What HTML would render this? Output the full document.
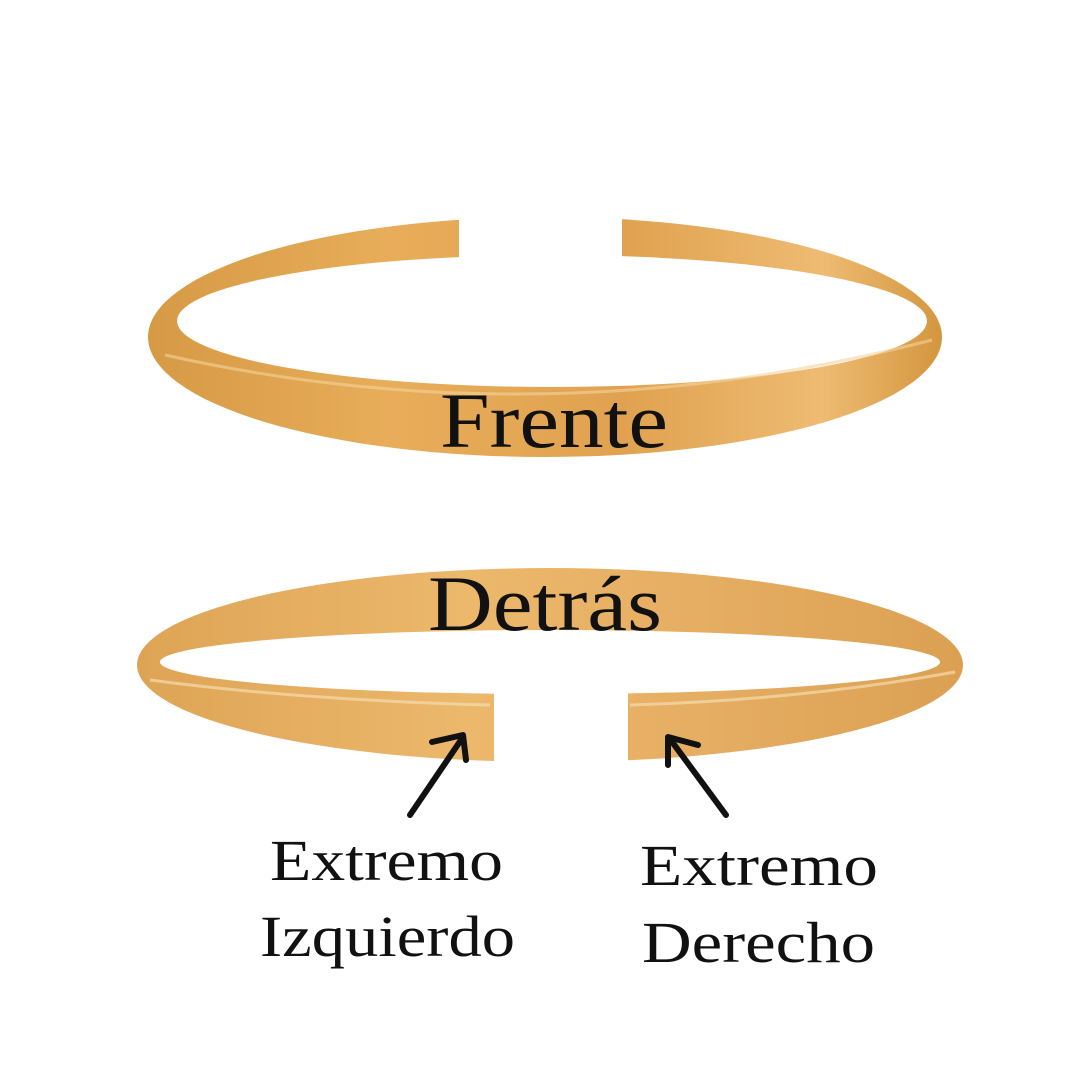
<!DOCTYPE html>
<html><head><meta charset="utf-8"><style>
html,body{margin:0;padding:0;background:#fff;width:1080px;height:1080px;overflow:hidden}
svg{display:block}
text{font-family:"Liberation Serif","DejaVu Serif",serif;fill:#111}
</style></head><body>
<svg width="1080" height="1080" viewBox="0 0 1080 1080">
<defs>
<linearGradient id="g" x1="0" y1="0" x2="1" y2="0">
<stop offset="0" stop-color="#d69a45"/><stop offset="0.3" stop-color="#e8ad5a"/>
<stop offset="0.6" stop-color="#e0a250"/><stop offset="0.85" stop-color="#eebb72"/><stop offset="1" stop-color="#d4963f"/>
</linearGradient>
<linearGradient id="g2" x1="0" y1="0" x2="1" y2="0">
<stop offset="0" stop-color="#dea455"/><stop offset="0.4" stop-color="#ecb86c"/>
<stop offset="0.7" stop-color="#e5ad62"/><stop offset="1" stop-color="#dba052"/>
</linearGradient>
</defs>
<!-- top bracelet -->
<ellipse cx="545" cy="337" rx="397" ry="120" fill="url(#g)"/>
<ellipse cx="552" cy="321" rx="375" ry="66" fill="#fff"/>
<path d="M165 355 Q545 440 932 340" stroke="#f3d49c" stroke-width="3" fill="none" opacity="0.6"/>
<rect x="459" y="195" width="163" height="80" fill="#fff"/>
<!-- bottom bracelet -->
<ellipse cx="550" cy="665" rx="413" ry="97" fill="url(#g2)"/>
<ellipse cx="550" cy="662" rx="390" ry="32" fill="#fff"/>
<path d="M150 680 Q300 700 490 705" stroke="#f5dcae" stroke-width="3" fill="none" opacity="0.7"/>
<path d="M630 705 Q800 700 955 672" stroke="#f5dcae" stroke-width="3" fill="none" opacity="0.7"/>
<rect x="494" y="690" width="134" height="80" fill="#fff"/>
<!-- labels -->
<text x="440" y="447" font-size="78" textLength="228" lengthAdjust="spacingAndGlyphs">Frente</text>
<text x="428" y="630" font-size="78" textLength="234" lengthAdjust="spacingAndGlyphs">Detrás</text>
<text x="270" y="880" font-size="58" textLength="233" lengthAdjust="spacingAndGlyphs">Extremo</text>
<text x="260" y="956" font-size="58" textLength="255" lengthAdjust="spacingAndGlyphs">Izquierdo</text>
<text x="640" y="885" font-size="58" textLength="238" lengthAdjust="spacingAndGlyphs">Extremo</text>
<text x="642" y="962" font-size="58" textLength="233" lengthAdjust="spacingAndGlyphs">Derecho</text>
<!-- arrows -->
<g stroke="#111" stroke-width="6" fill="none" stroke-linecap="round" stroke-linejoin="round">
<path d="M410 815 L463 737"/><path d="M432 742 L463 735 L466 760"/>
<path d="M726 815 L670 739"/><path d="M668 765 L668 737 L698 745"/>
</g>
</svg>
</body></html>
